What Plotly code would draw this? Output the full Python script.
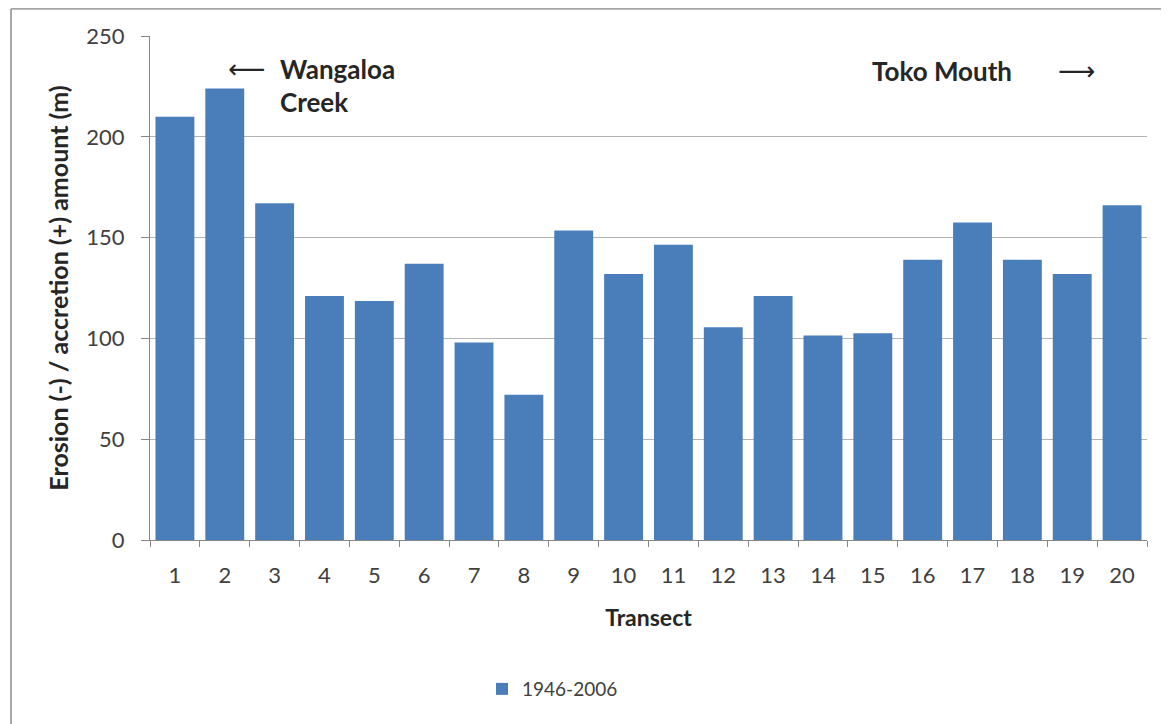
import plotly.graph_objects as go

# Data
transects = [str(i) for i in range(1, 21)]
change_1946_2006 = [210, 224, 167, 121, 118.5, 137, 98, 72, 153.5, 132,
                    146.5, 105.5, 121, 101.5, 102.5, 139, 157.5, 139, 132, 166]
y_tickvals = [0, 50, 100, 150, 200, 250]

BAR_COLOR = "#4a7ebb"
FONT = "Lato, Open Sans, sans-serif"

fig = go.Figure()

fig.add_trace(
    go.Bar(
        x=transects,
        y=change_1946_2006,
        name="1946-2006",
        marker=dict(color=BAR_COLOR, line=dict(width=0)),
    )
)

# the page body adds 8px, so the margins are shifted to compensate
fig.update_layout(
    width=1169,
    height=724,
    margin=dict(l=142, r=30, t=28, b=192),
    paper_bgcolor="white",
    plot_bgcolor="white",
    bargap=0.22,
    font=dict(family=FONT, size=18, color="#404040"),
    showlegend=True,
    legend=dict(
        orientation="h",
        x=0.333,
        y=-0.258,
        xanchor="left",
        yanchor="top",
        font=dict(size=19, color="#404040"),
        itemwidth=30,
    ),
    xaxis=dict(
        type="category",
        showgrid=False,
        showline=True,
        linecolor="#868686",
        linewidth=1,
        ticks="outside",
        ticklen=6,
        tickcolor="#868686",
        tickson="boundaries",
        ticklabelstandoff=16,
        tickfont=dict(size=22, color="#404040"),
        title=dict(
            text="<b>Transect</b>",
            font=dict(size=23, color="#262626"),
            standoff=22,
        ),
    ),
    yaxis=dict(
        range=[0, 250],
        tickvals=y_tickvals,
        showgrid=True,
        gridcolor="#b3b3b3",
        gridwidth=1,
        zeroline=False,
        showline=True,
        linecolor="#868686",
        linewidth=1,
        ticks="outside",
        ticklen=8,
        tickcolor="#868686",
        ticklabelstandoff=12,
        tickfont=dict(size=22, color="#404040"),
        title=dict(
            text="<b>Erosion (-) / accretion (+) amount (m)</b>",
            font=dict(size=25, color="#262626"),
            standoff=10,
        ),
    ),
)

# Location notes
fig.add_annotation(
    x=0.076, y=0.935, xref="paper", yref="paper",
    text="\u27f5", showarrow=False, xanchor="left", yanchor="middle",
    font=dict(size=26, color="#262626", family="DejaVu Sans"),
)
fig.add_annotation(
    x=0.128, y=0.935, xref="paper", yref="paper",
    text="<b>Wangaloa</b>", showarrow=False, xanchor="left", yanchor="middle",
    font=dict(size=26, color="#262626"),
)
fig.add_annotation(
    x=0.128, y=0.87, xref="paper", yref="paper",
    text="<b>Creek</b>", showarrow=False, xanchor="left", yanchor="middle",
    font=dict(size=26, color="#262626"),
)
fig.add_annotation(
    x=0.722, y=0.931, xref="paper", yref="paper",
    text="<b>Toko Mouth</b>", showarrow=False, xanchor="left", yanchor="middle",
    font=dict(size=26, color="#262626"),
)
fig.add_annotation(
    x=0.909, y=0.931, xref="paper", yref="paper",
    text="\u27f6", showarrow=False, xanchor="left", yanchor="middle",
    font=dict(size=26, color="#262626", family="DejaVu Sans"),
)

# Chart frame
fig.add_shape(type="line", xref="paper", yref="paper",
              x0=-0.1394, x1=-0.1394, y0=1.054, y1=-0.40,
              line=dict(color="#a6a6a6", width=2))
fig.add_shape(type="line", xref="paper", yref="paper",
              x0=-0.1394, x1=1.015, y0=1.054, y1=1.054,
              line=dict(color="#a6a6a6", width=2))
fig.add_shape(type="line", xref="paper", yref="paper",
              x0=1.015, x1=1.015, y0=1.054, y1=-0.40,
              line=dict(color="#d0d0d0", width=1.5))

fig.write_html("out.html")
